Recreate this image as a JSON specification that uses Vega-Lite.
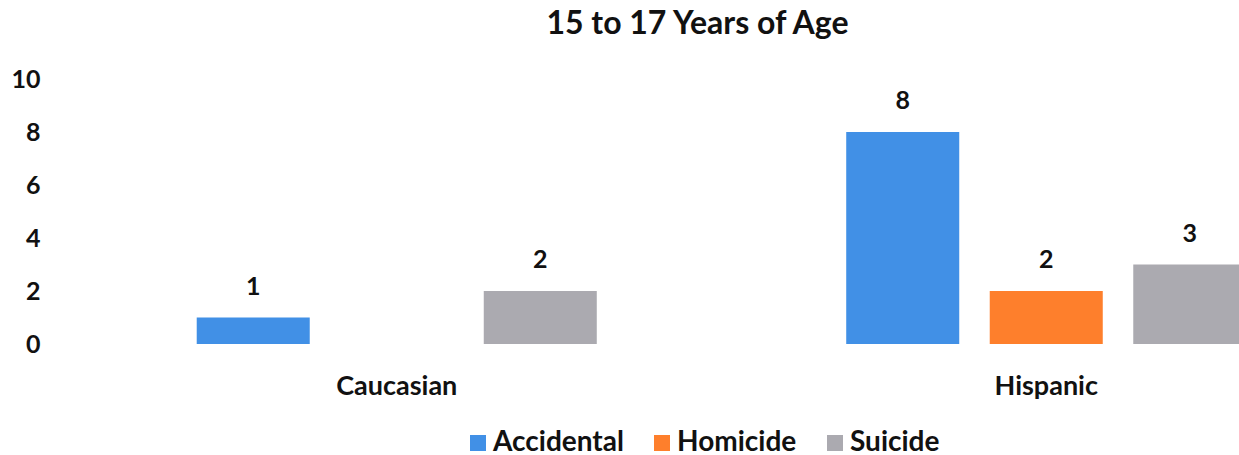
{
  "$schema": "https://vega.github.io/schema/vega-lite/v6.json",
  "width": 1167,
  "height": 265,
  "autosize": {"type": "none"},
  "padding": {"left": 72, "top": 79, "right": 0, "bottom": 111},
  "background": "white",
  "title": {
    "text": "15 to 17 Years of Age",
    "font": "Lato",
    "fontSize": 32,
    "fontWeight": "bold",
    "color": "#111111",
    "anchor": "middle",
    "dx": 42,
    "offset": 26
  },
  "data": {
    "values": [
      {"group": "Caucasian", "cause": "Accidental", "count": 1},
      {"group": "Caucasian", "cause": "Suicide", "count": 2},
      {"group": "Hispanic", "cause": "Accidental", "count": 8},
      {"group": "Hispanic", "cause": "Homicide", "count": 2},
      {"group": "Hispanic", "cause": "Suicide", "count": 3}
    ]
  },
  "config": {
    "view": {"stroke": null},
    "axis": {"grid": false, "domain": false, "ticks": false, "labelFont": "Lato", "labelFontWeight": "bold", "labelColor": "#111111", "title": null}
  },
  "encoding": {
    "x": {
      "field": "group",
      "type": "nominal",
      "scale": {"range": [0, 1299], "paddingInner": 0, "paddingOuter": 0},
      "axis": {"labelAngle": 0, "labelFontSize": 27, "labelPadding": 29}
    },
    "xOffset": {
      "field": "cause",
      "type": "nominal",
      "sort": ["Accidental", "Homicide", "Suicide"],
      "scale": {"domain": ["Accidental", "Homicide", "Suicide"], "paddingInner": 0.2125, "paddingOuter": 0.869}
    },
    "y": {
      "field": "count",
      "type": "quantitative",
      "scale": {"domain": [0, 10]},
      "axis": {"values": [0, 2, 4, 6, 8, 10], "labelFontSize": 25, "labelPadding": 32}
    }
  },
  "layer": [
    {
      "mark": {"type": "bar"},
      "encoding": {
        "color": {
          "field": "cause",
          "type": "nominal",
          "scale": {"domain": ["Accidental", "Homicide", "Suicide"], "range": ["#4190e6", "#fe7f2c", "#abaab0"]},
          "legend": {
            "title": null,
            "orient": "none",
            "direction": "horizontal",
            "legendX": 392,
            "legendY": 350,
            "padding": 0,
            "symbolType": "square",
            "symbolSize": 256,
            "symbolStrokeWidth": 0,
            "symbolOpacity": 1,
            "labelFont": "Lato",
            "labelFontWeight": "bold",
            "labelFontSize": 28,
            "labelColor": "#111111",
            "labelOffset": 1,
            "columnPadding": 24
          }
        }
      }
    },
    {
      "mark": {"type": "text", "baseline": "bottom", "dy": -18, "font": "Lato", "fontWeight": "bold", "fontSize": 25, "color": "#111111"},
      "encoding": {"text": {"field": "count", "type": "quantitative"}}
    }
  ]
}
